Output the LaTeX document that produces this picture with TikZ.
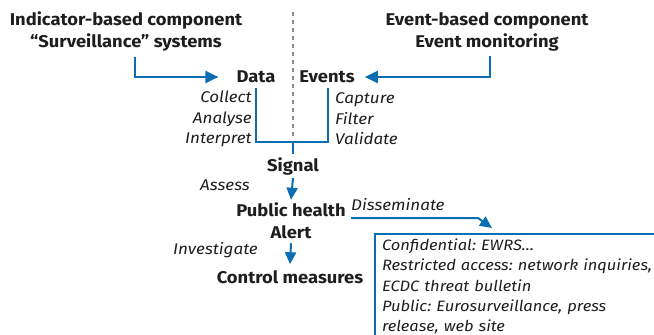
\documentclass[tikz,border=0pt]{standalone}
\usepackage{fontspec}
\setmainfont{Fira Sans}
\newfontfamily\bff[FakeStretch=1.08]{Fira Sans}
\newfontfamily\itf[FakeStretch=1.1]{Fira Sans}
\usetikzlibrary{arrows.meta}
\definecolor{blu}{RGB}{12,110,178}
\definecolor{txt}{RGB}{30,30,30}
\definecolor{dgray}{RGB}{140,140,140}
\frenchspacing
\begin{document}
\begin{tikzpicture}[x=1pt,y=-1pt,
  hd/.style={font=\bff\fontsize{17}{22}\selectfont\bfseries, text=txt, align=center, inner sep=0pt},
  it/.style={font=\itf\fontsize{15.5}{20.5}\selectfont\itshape, text=txt, inner sep=0pt},
  conn/.style={draw=blu, line width=2pt},
  arr/.style={conn, -{Triangle[length=13pt,width=12pt]}},
  varr/.style={conn, -{Triangle[length=12pt,width=11pt]}}]
\clip (0,0) rectangle (654,335);
\node[hd] (ib) at (126,31) {Indicator-based component\\“Surveillance” systems};
\node[hd] (eb) at (487,32) {Event-based component\\Event monitoring};
\node[hd] (data) at (256,77) {Data};
\node[hd] (events) at (327,77) {Events};
\node[hd] (signal) at (293,166) {Signal};
\node[hd] (pha) at (291,221) {Public health\\Alert};
\node[hd] (cm) at (290,277) {Control measures};
\node[it, anchor=east, align=right] (cai) at (252,119) {Collect\\Analyse\\Interpret};
\node[it, anchor=west, align=left] (cfv) at (335,119) {Capture\\Filter\\Validate};
\node[it, anchor=east] (assess) at (250,185) {Assess};
\node[it, anchor=east] (inv) at (258,250) {Investigate};
\node[it, anchor=west] (dis) at (351,205) {Disseminate};
\node[it, font=\itf\fontsize{15}{20.2}\selectfont\itshape, draw=blu, line width=2pt, anchor=north west, align=left, text width=290pt, inner xsep=7pt, inner ysep=5pt] (box) at (374,233)
  {Confidential: EWRS…\\Restricted access: network inquiries,\\ECDC threat bulletin\\Public: Eurosurveillance, press\\release, web site};
\coordinate (br) at (293,142);
\coordinate (d1) at (351,218);
\coordinate (d2) at (478,218);
\draw[dgray, line width=1.5pt, dash pattern=on 4pt off 4pt] (293,12) -- ([yshift=3pt]br);
\draw[arr] ([xshift=9pt,yshift=-6pt]ib.south) |- ([xshift=-18pt]data.west);
\draw[arr] ([xshift=3pt,yshift=-4pt]eb.south) |- ([xshift=10pt]events.east);
\draw[conn] ([yshift=-5pt]data.south) |- (br) -| ([xshift=1pt,yshift=-5pt]events.south);
\draw[conn] (br) -- ([yshift=3pt]signal.north);
\draw[varr] ([yshift=-3pt]signal.south) -- ([yshift=3pt]pha.north);
\draw[varr] ([yshift=-4pt]pha.south) -- ([yshift=6pt]cm.north);
\draw[varr] (d1) -- (d2) -- ([xshift=118pt,yshift=5pt]box.north west);
\end{tikzpicture}
\end{document}
